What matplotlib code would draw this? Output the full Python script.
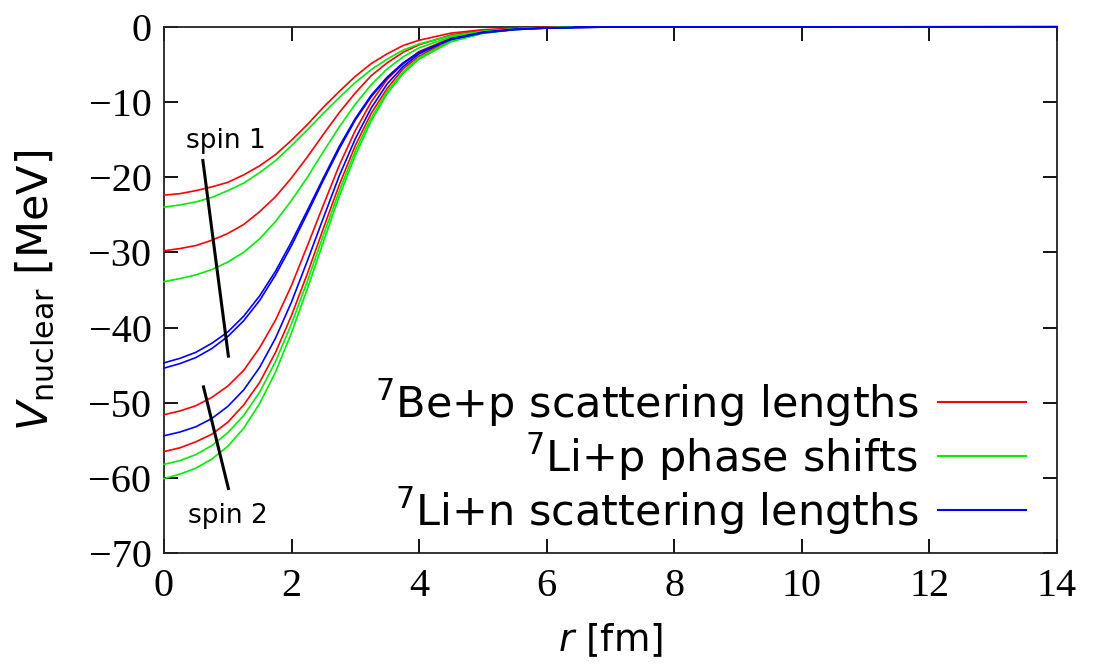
import matplotlib
matplotlib.use("Agg")
import matplotlib.pyplot as plt

# radial grid (fm) at which the potentials were tabulated
r_grid = [0.0, 0.25, 0.5, 0.75, 1.0, 1.25, 1.5, 1.75, 2.0, 2.25, 2.5, 2.75,
          3.0, 3.25, 3.5, 3.75, 4.0, 4.5, 5.0, 5.5, 6.0, 6.4]
r_grid_n = r_grid[:-1] + [7.0, 14.0]

# 7Be+p from scattering lengths (MeV)
be_p = [
    [-22.4, -22.2, -21.8, -21.3, -20.7, -19.7, -18.5, -17.0, -15.1, -13.0, -10.7, -8.6,
     -6.6, -4.9, -3.6, -2.5, -1.8, -0.85, -0.4, -0.19, -0.08, -0.04],
    [-29.8, -29.5, -29.1, -28.4, -27.5, -26.3, -24.6, -22.6, -20.1, -17.3, -14.3, -11.4,
     -8.8, -6.5, -4.8, -3.4, -2.4, -1.1, -0.5, -0.25, -0.11, -0.05],
    [-51.6, -51.1, -50.4, -49.3, -47.8, -45.7, -42.7, -39.0, -34.4, -29.1, -23.7, -18.4,
     -13.8, -10.0, -7.0, -4.9, -3.3, -1.5, -0.66, -0.29, -0.13, -0.06],
    [-56.5, -56.0, -55.2, -54.2, -52.6, -50.3, -47.3, -43.3, -38.4, -32.8, -26.8, -21.0,
     -15.8, -11.5, -8.2, -5.6, -3.9, -1.7, -0.77, -0.34, -0.15, -0.08],
]

# 7Li+p from phase shifts (MeV)
li_p = [
    [-24.0, -23.7, -23.3, -22.7, -21.8, -20.8, -19.4, -17.8, -15.8, -13.7, -11.5, -9.4,
     -7.4, -5.7, -4.3, -3.1, -2.3, -1.2, -0.6, -0.29, -0.14, -0.08],
    [-33.9, -33.5, -33.0, -32.3, -31.3, -30.0, -28.2, -25.9, -23.1, -20.0, -16.6, -13.3,
     -10.3, -7.7, -5.6, -4.0, -2.8, -1.35, -0.63, -0.29, -0.13, -0.07],
    [-58.2, -57.7, -56.9, -55.7, -54.0, -51.7, -48.6, -44.5, -39.5, -33.8, -27.7, -21.8,
     -16.5, -12.1, -8.6, -6.0, -4.1, -1.9, -0.85, -0.38, -0.17, -0.09],
    [-60.1, -59.5, -58.7, -57.5, -55.8, -53.4, -50.1, -45.9, -40.7, -34.8, -28.6, -22.5,
     -17.1, -12.5, -8.9, -6.2, -4.3, -2.0, -0.88, -0.39, -0.17, -0.09],
]

# 7Li+n from scattering lengths (MeV)
li_n = [
    [-44.7, -44.1, -43.3, -42.1, -40.6, -38.5, -35.8, -32.5, -28.6, -24.4, -20.1, -15.9,
     -12.2, -9.1, -6.7, -4.8, -3.4, -1.66, -0.79, -0.37, -0.18, -0.04, 0.0],
    [-45.4, -44.8, -44.0, -42.8, -41.2, -39.1, -36.4, -33.0, -29.1, -24.8, -20.4, -16.2,
     -12.4, -9.3, -6.8, -4.9, -3.4, -1.7, -0.80, -0.38, -0.18, -0.04, 0.0],
    [-54.4, -53.9, -53.2, -52.1, -50.5, -48.3, -45.3, -41.4, -36.6, -31.1, -25.4, -19.8,
     -14.9, -10.8, -7.6, -5.3, -3.6, -1.6, -0.72, -0.32, -0.14, -0.03, 0.0],
]

labels = [r"$^{7}$Be+p scattering lengths",
          r"$^{7}$Li+p phase shifts",
          r"$^{7}$Li+n scattering lengths"]
colors = ["#ff0000", "#00ee00", "#0000ff"]

plt.rcParams["font.family"] = ["DejaVu Sans"]
plt.rcParams["mathtext.fontset"] = "dejavusans"

fig = plt.figure(figsize=(10.93, 6.68), dpi=100)
ax = fig.add_axes([0.150, 0.172, 0.817, 0.788])

lw = 1.2
for i, v in enumerate(be_p):
    ax.plot(r_grid, v, color=colors[0], lw=lw, zorder=3, clip_on=False,
            label=labels[0] if i == 0 else None)
for i, v in enumerate(li_p):
    ax.plot(r_grid, v, color=colors[1], lw=lw, zorder=3, clip_on=False,
            label=labels[1] if i == 0 else None)
for i, v in enumerate(li_n):
    ax.plot(r_grid_n, v, color=colors[2], lw=lw, zorder=3, clip_on=False,
            label=labels[2] if i == 0 else None)

# spin group markers
ax.plot([0.61, 1.01], [-17.8, -43.8], color="black", lw=2.2, zorder=4)
ax.plot([0.62, 1.01], [-47.9, -61.4], color="black", lw=2.2, zorder=4)
ax.text(0.97, -15.2, "spin 1", fontsize=19, ha="center", va="center")
ax.text(1.0, -65.0, "spin 2", fontsize=19, ha="center", va="center")

ax.set_xlim(0, 14)
ax.set_ylim(-70, 0)
ax.set_xticks(range(0, 15, 2))
ax.set_yticks(range(-70, 1, 10))
ax.tick_params(axis="both", direction="in", length=10, width=1.3,
               top=True, right=True, labelsize=29)
ax.tick_params(axis="x", pad=11)
ax.tick_params(axis="y", pad=9)
for lab in ax.get_xticklabels() + ax.get_yticklabels():
    lab.set_fontfamily("Liberation Serif")
for sp in ax.spines.values():
    sp.set_linewidth(1.3)
    sp.set_color("#222222")

ax.set_xlabel(r"$r$ [fm]", fontsize=27)
ax.set_ylabel(r"$V_{\mathrm{nuclear}}$ [MeV]", fontsize=31)
ax.xaxis.set_label_coords(0.5, -0.13)
ax.yaxis.set_label_coords(-0.12, 0.5)

leg = ax.legend(loc="lower right", bbox_to_anchor=(0.975, 0.015), frameon=False,
                markerfirst=False, fontsize=31, handlelength=2.05,
                handletextpad=0.45, labelspacing=0.06, borderpad=0.2,
                borderaxespad=0.0)
for h in leg.get_lines():
    h.set_linewidth(1.5)

fig.savefig("out.png", dpi=100)
